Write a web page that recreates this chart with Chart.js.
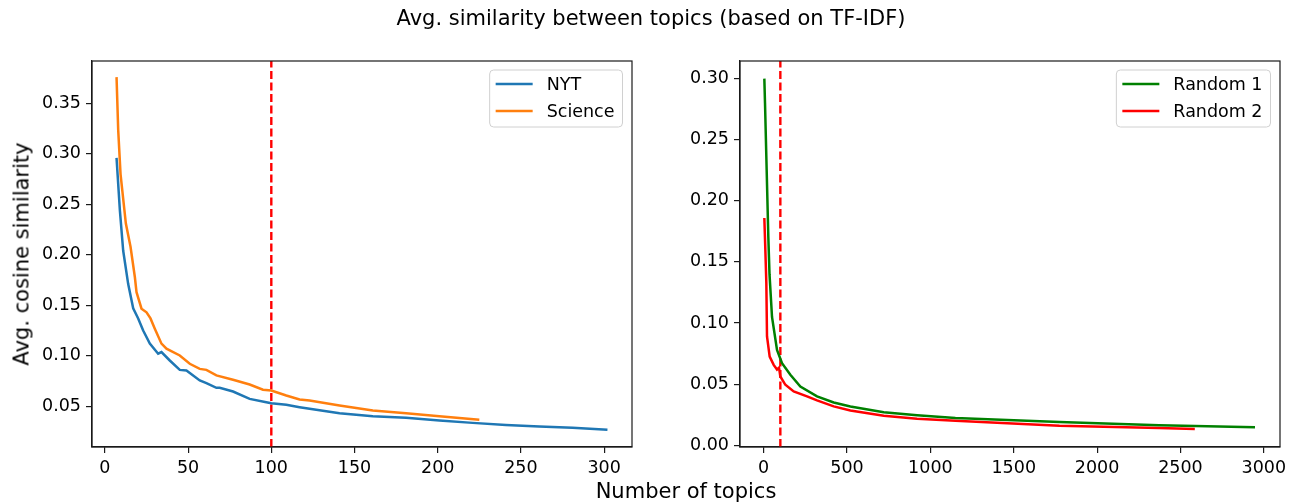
<!DOCTYPE html>
<html>
<head>
<meta charset="utf-8">
<script src="https://cdn.jsdelivr.net/npm/chart.js@4"></script>
<style>
  body { margin: 0; background: #fff; }
  #wrap { position: relative; width: 1303px; height: 504px; font-family: "DejaVu Sans", sans-serif; color: #000; }
  canvas { position: absolute; top: 0; }
  .lbl { position: absolute; font-size: 21px; line-height: 21px; white-space: nowrap; transform: translate(-50%, -50%); }
</style>
</head>
<body>
<div id="wrap">
  <canvas id="left" style="left:0" width="650" height="504"></canvas>
  <canvas id="right" style="left:650px" width="653" height="504"></canvas>
  <div class="lbl" style="left:651px; top:18px">Avg. similarity between topics (based on TF-IDF)</div>
  <div class="lbl" style="left:686px; top:491px">Number of topics</div>
  <div class="lbl" style="left:22px; top:254px; transform: translate(-50%, -50%) rotate(-90deg)">Avg. cosine similarity</div>
</div>
<script>
// left panel: NYT vs Science
var nytX = [7, 9, 11, 14, 17, 20, 23, 27, 32, 34, 39, 45, 49, 57, 61, 67, 69, 77, 87, 97, 100, 109, 117, 123, 141, 161, 181, 201, 221, 241, 261, 281, 302];
var nytY = [0.296, 0.244, 0.204, 0.171, 0.147, 0.137, 0.125, 0.112, 0.102, 0.1036, 0.0953, 0.086, 0.0854, 0.0755, 0.0728, 0.0682, 0.0683, 0.0646, 0.0573, 0.054, 0.053, 0.0514, 0.049, 0.0474, 0.043, 0.040, 0.0385, 0.0358, 0.0335, 0.0315, 0.0299, 0.0286, 0.0266];
var sciX = [7, 8, 9.4, 12.6, 15.4, 18, 19, 22, 25, 27.4, 30, 34, 37, 45, 51, 57, 61, 67, 77, 87, 95, 100, 109, 117, 123, 141, 161, 181, 201, 225];
var sciY = [0.376, 0.3235, 0.280, 0.231, 0.208, 0.178, 0.163, 0.1466, 0.143, 0.137, 0.1268, 0.112, 0.107, 0.1003, 0.092, 0.087, 0.086, 0.0805, 0.0762, 0.0715, 0.0663, 0.0656, 0.0606, 0.0566, 0.0557, 0.0507, 0.0457, 0.043, 0.040, 0.0365];

// right panel: two random corpora
var r1X = [4, 8, 18, 28, 35, 50, 80, 110, 160, 220, 320, 420, 520, 720, 920, 1150, 1774, 2372, 2947];
var r1Y = [0.300, 0.28, 0.225, 0.17, 0.14, 0.105, 0.078, 0.0672, 0.0577, 0.048, 0.040, 0.035, 0.0318, 0.027, 0.0245, 0.0223, 0.019, 0.0163, 0.0147];
var r2X = [4, 10, 16, 20, 36, 60, 80, 92, 100, 130, 180, 260, 320, 420, 520, 720, 920, 1150, 1774, 2372, 2586];
var r2Y = [0.186, 0.16, 0.1325, 0.089, 0.0726, 0.0658, 0.062, 0.0635, 0.0563, 0.0495, 0.044, 0.040, 0.0367, 0.0318, 0.0285, 0.0242, 0.0218, 0.020, 0.016, 0.0142, 0.0134];

var cutoff = 100;

var leftXTicks = [0, 50, 100, 150, 200, 250, 300];
var leftYTicks = [0.05, 0.10, 0.15, 0.20, 0.25, 0.30, 0.35];
var rightXTicks = [0, 500, 1000, 1500, 2000, 2500, 3000];
var rightYTicks = [0.00, 0.05, 0.10, 0.15, 0.20, 0.25, 0.30];

var FONT = "'DejaVu Sans', sans-serif";

function pts(xs, ys) {
  return xs.map(function (x, i) { return { x: x, y: ys[i] }; });
}

function series(label, xs, ys, color) {
  return { label: label, data: pts(xs, ys), borderColor: color, backgroundColor: color,
    borderWidth: 2.5, pointRadius: 0, tension: 0, fill: false };
}

function cutLine(yMin, yMax) {
  return { label: '', data: [{ x: cutoff, y: yMin }, { x: cutoff, y: yMax }], borderColor: '#ff0000',
    borderWidth: 2.4, borderDash: [8, 3.5], pointRadius: 0, fill: false, legend: false };
}

// top/right spines and matplotlib style legend box
var frame = {
  id: 'frame',
  afterDraw: function (chart) {
    var c = chart.ctx, a = chart.chartArea;
    c.save();
    c.strokeStyle = '#1a1a1a';
    c.lineWidth = 1.2;
    c.strokeRect(a.left, a.top, a.right - a.left, a.bottom - a.top);

    var items = chart.data.datasets.filter(function (d) { return d.legend !== false; });
    c.font = '17.5px ' + FONT;
    var tw = 0;
    items.forEach(function (d) { tw = Math.max(tw, c.measureText(d.label).width); });
    var w = 6 + 37 + 14 + tw + 8, h = 57;
    var x0 = a.right - 9.5 - w, y0 = a.top + 9;
    c.beginPath();
    c.roundRect(x0, y0, w, h, 4);
    c.fillStyle = 'rgba(255,255,255,0.8)';
    c.fill();
    c.strokeStyle = '#d0d0d0';
    c.lineWidth = 1;
    c.stroke();
    c.textBaseline = 'middle';
    c.textAlign = 'left';
    items.forEach(function (d, i) {
      var yy = y0 + 14 + i * 27;
      c.strokeStyle = d.borderColor;
      c.lineWidth = 2.7;
      c.beginPath();
      c.moveTo(x0 + 6, yy);
      c.lineTo(x0 + 43, yy);
      c.stroke();
      c.fillStyle = '#000';
      c.fillText(d.label, x0 + 57, yy + 1);
    });
    c.restore();
  }
};

function axis(min, max, ticks, digits, size) {
  return {
    type: 'linear', min: min, max: max,
    afterBuildTicks: function (s) { s.ticks = ticks.map(function (v) { return { value: v }; }); },
    afterFit: function (s) { if (s.isHorizontal()) s.height = size; else s.width = size; },
    grid: { drawOnChartArea: false, color: '#1a1a1a', tickColor: '#1a1a1a', tickLength: 6, lineWidth: 1.2 },
    border: { display: true, color: '#1a1a1a', width: 1.2 },
    ticks: { color: '#000', padding: 5, font: { family: FONT, size: 17.5 },
      callback: function (v) { return v.toFixed(digits); } }
  };
}

function makeChart(id, datasets, xr, yr, xt, yt, yDigits, yWidth, rightPad) {
  return new Chart(document.getElementById(id), {
    type: 'line',
    data: { datasets: datasets },
    options: {
      responsive: false, animation: false,
      layout: { padding: { left: 0, right: rightPad, top: 61, bottom: 0 } },
      plugins: { legend: { display: false }, tooltip: { enabled: false } },
      scales: {
        x: axis(xr[0], xr[1], xt, 0, 57),
        y: axis(yr[0], yr[1], yt, yDigits, yWidth)
      }
    },
    plugins: [frame]
  });
}

var leftY = [0.0096, 0.392];
makeChart('left', [
  series('NYT', nytX, nytY, '#1f77b4'),
  series('Science', sciX, sciY, '#ff7f0e'),
  cutLine(leftY[0], leftY[1])
], [-7.75, 316.75], leftY, leftXTicks, leftYTicks, 2, 92, 18);

var rightY = [-0.0014, 0.3144];
makeChart('right', [
  series('Random 1', r1X, r1Y, '#008000'),
  series('Random 2', r2X, r2Y, '#ff0000'),
  cutLine(rightY[0], rightY[1])
], [-142, 3097], rightY, rightXTicks, rightYTicks, 2, 90, 23);
</script>
</body>
</html>
